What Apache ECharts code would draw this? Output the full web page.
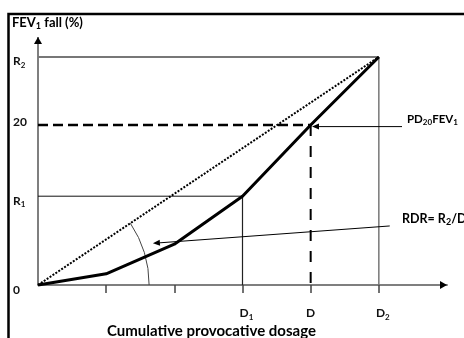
<!DOCTYPE html>
<html><head><meta charset="utf-8">
<script src="https://cdn.jsdelivr.net/npm/echarts@6/dist/echarts.min.js"></script>
<style>html,body{margin:0;padding:0;background:#fff}#c{width:464px;height:338px}</style>
</head><body><div id="c"></div>
<script>
// ---- data ----
const xTickValues = [1, 2, 3, 4, 5];
const xLabelValues = [3, 4, 5];
const xLabelTexts = ['D_1', 'D', 'D_2'];
const yLabelValues = [0, 11.1, 20, 28.5];
const yLabelTexts = ['0', 'R_1', '20', 'R_2'];
const curveX = [0, 1.0, 2.0, 3, 4, 5];
const curveY = [0, 1.4, 5.1, 11.1, 20, 28.5];
const D1 = 3, D = 4, D2 = 5;
const R1 = 11.1, PD20 = 20, R2 = 28.5;
const pd20Arrow = [5.34, 19.8, 4.02, 19.8];
const rdrArrow = [5.16, 7.38, 1.686, 5.21];
const arcRadius = 1.63; // x-units
const xMax = 6, yMin = -1, yMax = 31;

// layout
const GRID = { left: 38, right: 17, top: 37, bottom: 45 };
const pxPerY = (338 - GRID.top - GRID.bottom) / (yMax - yMin);
const yLabelNudgePx = [5, 5, -2.5, 4.5];   // label drawn slightly below/above its line
const yLabelPos = yLabelValues.map((v, i) => v - yLabelNudgePx[i] / pxPerY);

const FONT = 'Lato';
function richSet(size) {
  const base = { fontFamily: FONT, fontWeight: 'bold', fontSize: size, color: '#111', lineHeight: size + 3 };
  const ss = Math.round(size * 0.68);
  return {
    m: base,
    mx: Object.assign({}, base, { padding: [0, 0, 0, 8] }),
    s: { fontFamily: FONT, fontWeight: 'bold', fontSize: ss, color: '#111', verticalAlign: 'bottom', lineHeight: ss + 1 }
  };
}
function sub(t, key, keySub) {
  const p = t.split('_');
  if (p.length === 1) return '{' + key + '|' + p[0] + '}';
  return '{' + keySub + '|' + p[0] + '}{s|' + p[1] + '}';
}
function xLabel(v) {
  for (let i = 0; i < xLabelValues.length; i++)
    if (Math.abs(xLabelValues[i] - v) < 1e-6) return sub(xLabelTexts[i], 'm', 'mx');
  return '';
}
function yLabel(v) {
  for (let i = 0; i < yLabelPos.length; i++)
    if (Math.abs(yLabelPos[i] - v) < 1e-6) return sub(yLabelTexts[i], 'm', 'm');
  return '';
}

const chart = echarts.init(document.getElementById('c'), null, { renderer: 'canvas' });
function refLine(data, color, width, type, z) {
  return { type: 'line', data, symbol: 'none', silent: true, z: z || 2,
    lineStyle: { color, width, type: type || 'solid' }, animation: false };
}
function arrowSeries(data, hl, hw, lw) {
  return {
    type: 'custom', data, silent: true, z: 6, animation: false,
    encode: { x: [0, 2], y: [1, 3] },
    renderItem(params, api) {
      const a = api.coord([api.value(0), api.value(1)]);
      const b = api.coord([api.value(2), api.value(3)]);
      const dx = b[0] - a[0], dy = b[1] - a[1], L = Math.hypot(dx, dy);
      const ux = dx / L, uy = dy / L;
      const base = [b[0] - ux * hl, b[1] - uy * hl];
      return { type: 'group', children: [
        { type: 'line', shape: { x1: a[0], y1: a[1], x2: base[0], y2: base[1] }, style: { stroke: '#000', lineWidth: lw } },
        { type: 'polygon', shape: { points: [b, [base[0] - uy * hw, base[1] + ux * hw], [base[0] + uy * hw, base[1] - ux * hw]] }, style: { fill: '#000' } }
      ] };
    }
  };
}

chart.setOption({
  animation: false,
  grid: Object.assign({ containLabel: false }, GRID),
  xAxis: {
    type: 'value', min: 0, max: xMax, interval: 1,
    splitLine: { show: false },
    axisLine: { onZero: true, lineStyle: { color: '#7f7f7f', width: 2 } },
    axisTick: { show: true, customValues: xTickValues, length: 8, lineStyle: { color: '#444', width: 1.5 } },
    axisLabel: { customValues: xLabelValues, margin: 13, formatter: xLabel, rich: richSet(12) }
  },
  yAxis: {
    type: 'value', min: yMin, max: yMax,
    splitLine: { show: false },
    axisLine: { show: false },
    axisTick: { show: false },
    axisLabel: { customValues: yLabelPos, align: 'left', margin: 25, formatter: yLabel, rich: richSet(12) }
  },
  graphic: [
    { type: 'rect', shape: { x: 8.5, y: 14, width: 700, height: 700 }, style: { fill: 'none', stroke: '#000', lineWidth: 2.5 }, z: 0, silent: true },
    { type: 'text', left: 12, top: 16, style: { text: '{m|FEV}{s|1}{m| fall (%)}', rich: richSet(13) } },
    { type: 'text', left: 107, top: 324, style: { text: '{m|Cumulative provocative dosage}', rich: richSet(15) } },
    { type: 'text', left: 407, top: 113, style: { text: '{m|PD}{s|20}{m|FEV}{s|1}', rich: richSet(11.5) } },
    { type: 'text', left: 402, top: 212, style: { text: '{m|RDR= R}{s|2}{m|/D}{s|2}', rich: richSet(12.5) } }
  ],
  series: [
    refLine([[0, 0], [0, yMax]], '#7f7f7f', 2),
    refLine([[0, R2], [D2, R2]], '#777', 2),
    refLine([[D2, R2], [D2, 0]], '#777', 1.5),
    refLine([[0, R1], [D1, R1]], '#111', 1),
    refLine([[D1, R1], [D1, 0]], '#222', 1.2),
    refLine([[0, PD20], [D, PD20]], '#000', 2.5, [10, 5]),
    refLine([[D, PD20], [D, 0]], '#000', 2, [11, 10]),
    refLine([[0, 0], [D2, R2]], '#000', 2, [2, 1.5], 3),
    { type: 'line', data: curveX.map((x, i) => [x, curveY[i]]), symbol: 'none', silent: true, z: 5,
      lineStyle: { color: '#000', width: 3, join: 'round' } },
    {
      type: 'custom', data: [[0, 0]], silent: true, z: 4,
      renderItem(params, api) {
        const c = api.coord([0, 0]);
        const e = api.coord([D2, R2]);
        const ang = Math.atan2(e[1] - c[1], e[0] - c[0]);
        const r = api.size([arcRadius, 0])[0];
        return { type: 'arc', shape: { cx: c[0], cy: c[1], r, startAngle: ang, endAngle: 0, clockwise: true },
          style: { stroke: '#444', fill: null, lineWidth: 1 } };
      }
    },
    arrowSeries([pd20Arrow, rdrArrow], 7, 3, 1),
    arrowSeries([[xMax - 0.1, 0, xMax, 0], [0, yMax - 0.9, 0, yMax]], 7, 4, 0.1)
  ]
});
</script></body></html>
